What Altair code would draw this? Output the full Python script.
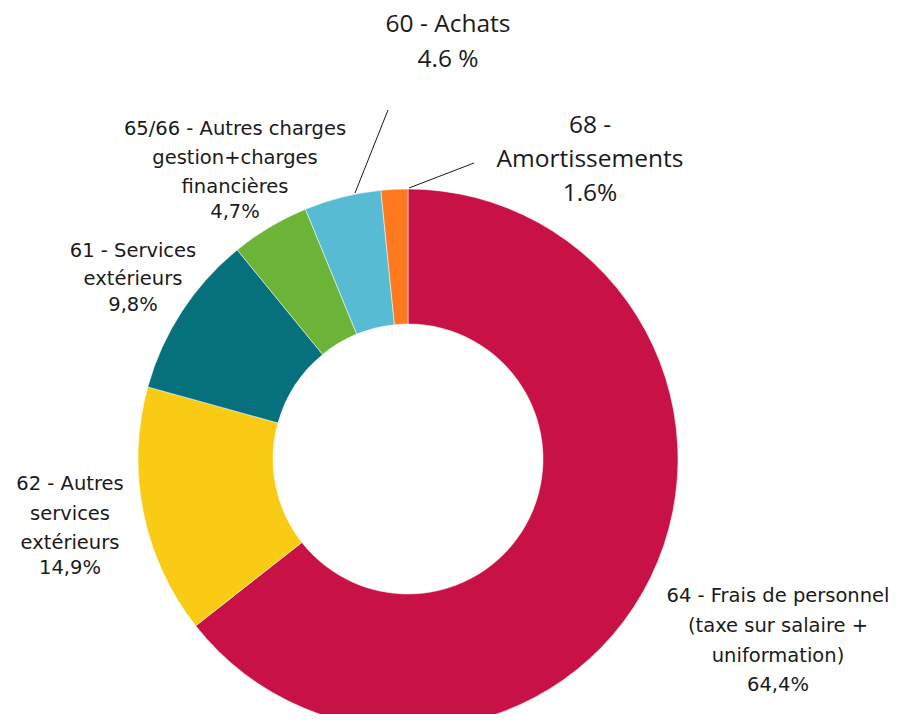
import altair as alt
import pandas as pd

# ---- data ----
categories = ["64 - Frais de personnel", "62 - Autres services extérieurs", "61 - Services extérieurs",
              "65/66 - Autres charges", "60 - Achats", "68 - Amortissements"]
values = [64.4, 14.9, 9.8, 4.7, 4.6, 1.6]
colors = ["#C81246", "#FACB14", "#06717D", "#6CB438", "#58BBD4", "#FF7A1E"]
name_text = ["64 - Frais de personnel\n(taxe sur salaire +\nuniformation)",
             "62 - Autres\nservices\nextérieurs",
             "61 - Services\nextérieurs",
             "65/66 - Autres charges\ngestion+charges\nfinancières",
             "60 - Achats",
             "68 -\nAmortissements"]
pct_text = ["64,4%", "14,9%", "9,8%", "4,7%", "4.6 %", "1.6%"]

df = pd.DataFrame({"cat": categories, "val": values, "order": list(range(len(values)))})

W, H = 892, 706
CX, CY = 400, 451
R_OUT, R_IN = 270, 135

pie = alt.Chart(df).mark_arc(outerRadius=R_OUT, innerRadius=R_IN, stroke="white", strokeWidth=0.5).encode(
    theta=alt.Theta("val:Q", stack=True),
    color=alt.Color("cat:N", scale=alt.Scale(domain=categories, range=colors), legend=None),
    order=alt.Order("order:Q"),
    x=alt.value(CX), y=alt.value(CY),
)

# label layout (annotation placement): x, y of first name line, line height, y of percent, font, size
SMALL = dict(font="DejaVu Sans", size=19.5)
BIG = dict(font="Open Sans", size=24.5)
layout = {
    0: dict(x=770, y=588, lh=30, py=677, **SMALL),
    1: dict(x=62, y=476, lh=29.5, py=560, **SMALL),
    2: dict(x=125, y=243, lh=28, py=297, **SMALL),
    3: dict(x=227, y=121, lh=29, py=204, **SMALL),
    4: dict(x=440, y=17, lh=34, py=52, **BIG),
    5: dict(x=582, y=118, lh=34, py=186, **BIG),
}

layers = [pie]
for i, (nm, pc) in enumerate(zip(name_text, pct_text)):
    L = layout[i]
    d = pd.DataFrame({"name": [nm], "pct": [pc]})
    base = alt.Chart(d)
    layers.append(base.mark_text(x=L["x"], y=L["y"], align="center", baseline="middle",
                                 lineBreak="\n", lineHeight=L["lh"], font=L["font"],
                                 fontSize=L["size"], color="#1a1a1a").encode(text="name:N"))
    layers.append(base.mark_text(x=L["x"], y=L["py"], align="center", baseline="middle",
                                 font=L["font"], fontSize=L["size"], color="#1a1a1a").encode(text="pct:N"))

# leader lines for small slices
leaders = [((347, 185), (380, 102)), ((401, 180), (466, 155))]
for (x1, y1), (x2, y2) in leaders:
    layers.append(alt.Chart(pd.DataFrame({"a": [0]})).mark_rule(color="#1a1a1a", strokeWidth=1).encode(
        x=alt.value(x1), y=alt.value(y1), x2=alt.value(x2), y2=alt.value(y2)))

chart = alt.layer(*layers).properties(
    width=W, height=H, padding=0, autosize=alt.AutoSizeParams(type="none")
).configure_view(stroke=None)

chart.save("out.html", embed_options={"renderer": "svg", "actions": False})
